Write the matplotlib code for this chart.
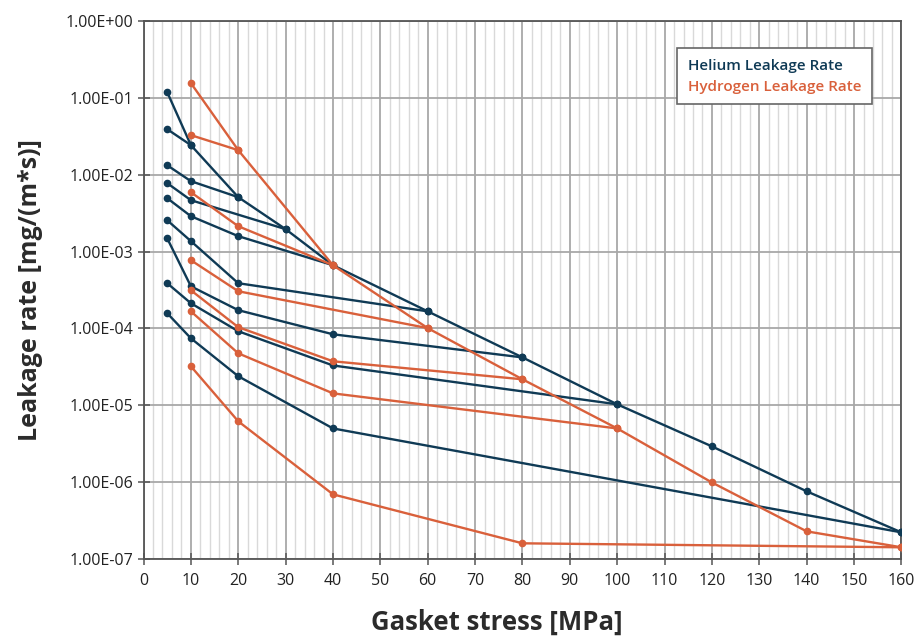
import matplotlib
matplotlib.use('Agg')
import matplotlib.pyplot as plt
from matplotlib.ticker import MultipleLocator, FuncFormatter, NullLocator, FixedLocator
from matplotlib.lines import Line2D

# leakage measurements, one list per loading path
# helium
he_stress = [
    [5, 10, 20, 30, 40, 60, 80, 100, 120, 140, 160],
    [5, 10],
    [5, 10, 20],
    [5, 10, 30],
    [5, 10, 20, 40],
    [5, 10, 20, 60],
    [5, 10, 20, 40, 80],
    [5, 10, 20, 40, 100],
    [5, 10, 20, 40, 160],
]
he_rate = [
    [0.119, 0.0243, 0.00511, 0.00196, 6.65e-4, 1.67e-4, 4.2e-5, 1.03e-5, 2.92e-6, 7.6e-7, 2.22e-7],
    [0.0392, 0.0243],
    [0.0133, 0.00826, 0.00511],
    [0.00778, 0.00467, 0.00196],
    [0.00496, 0.00289, 0.00159, 6.65e-4],
    [0.00256, 0.00137, 3.88e-4, 1.67e-4],
    [0.00149, 3.54e-4, 1.73e-4, 8.4e-5, 4.2e-5],
    [3.88e-4, 2.13e-4, 9.2e-5, 3.3e-5, 1.03e-5],
    [1.58e-4, 7.45e-5, 2.39e-5, 5.0e-6, 2.22e-7],
]

# hydrogen
h2_stress = [
    [10, 20, 40, 60, 80, 100, 120, 140, 160],
    [10, 20],
    [10, 20, 40],
    [10, 20, 60],
    [10, 20, 40, 80],
    [10, 20, 40, 100],
    [10, 20, 40, 80, 160],
]
h2_rate = [
    [0.156, 0.0209, 6.65e-4, 1.01e-4, 2.18e-5, 5.0e-6, 9.9e-7, 2.29e-7, 1.42e-7],
    [0.0328, 0.0209],
    [0.00593, 0.00214, 6.65e-4],
    [7.73e-4, 3.05e-4, 1.01e-4],
    [3.14e-4, 1.04e-4, 3.74e-5, 2.18e-5],
    [1.67e-4, 4.75e-5, 1.43e-5, 5.0e-6],
    [3.22e-5, 6.19e-6, 6.94e-7, 1.6e-7, 1.42e-7],
]

y_ticks = [1e-7, 1e-6, 1e-5, 1e-4, 1e-3, 1e-2, 1e-1, 1e0]

he_color = '#0f3a55'
h2_color = '#d9603b'

plt.rcParams['font.family'] = ['Open Sans', 'DejaVu Sans']

fig = plt.figure(figsize=(9.17, 6.39), dpi=100)
ax = fig.add_axes([0.1565, 0.1252, 0.8265, 0.8418])

for xs, ys in zip(he_stress, he_rate):
    ax.plot(xs, ys, color=he_color, lw=1.7, marker='o', ms=4.5, zorder=3)
for xs, ys in zip(h2_stress, h2_rate):
    ax.plot(xs, ys, color=h2_color, lw=1.7, marker='o', ms=4.5, zorder=4)

ax.set_yscale('log')
ax.set_ylim(1e-7, 1)
ax.set_xlim(0, 160)
ax.xaxis.set_major_locator(MultipleLocator(10))
ax.xaxis.set_minor_locator(MultipleLocator(2))
ax.yaxis.set_major_locator(FixedLocator(y_ticks))
ax.yaxis.set_minor_locator(NullLocator())
ax.yaxis.set_major_formatter(FuncFormatter(lambda v, p: '%.2E' % v))

ax.grid(which='minor', axis='x', color='#d9d9d9', lw=1.0, zorder=0)
ax.grid(which='major', axis='x', color='#a8a8a8', lw=1.3, zorder=0)
ax.grid(which='major', axis='y', color='#a8a8a8', lw=1.3, zorder=0)
ax.set_axisbelow(True)

for s in ax.spines.values():
    s.set_color('#555555')
    s.set_linewidth(1.3)

ax.tick_params(axis='both', which='major', direction='inout', length=8, width=1.1,
               color='#555555', labelsize=11.5, labelcolor='#222222')
ax.tick_params(axis='x', which='major', pad=6)
ax.tick_params(axis='x', which='minor', length=0)

ax.set_xlabel('Gasket stress [MPa]', fontsize=18.5, fontweight='bold', color='#2b2b2b',
              labelpad=14, x=0.466)
ax.set_ylabel('Leakage rate [mg/(m*s)]', fontsize=18, fontweight='bold', color='#2b2b2b',
              labelpad=16)

handles = [Line2D([], [], color=he_color, lw=0), Line2D([], [], color=h2_color, lw=0)]
leg = ax.legend(handles, ['Helium Leakage Rate', 'Hydrogen Leakage Rate'],
                loc='upper right', bbox_to_anchor=(0.961, 0.95), borderaxespad=0,
                handlelength=0, handletextpad=0, fancybox=False, framealpha=1,
                edgecolor='#666666', labelcolor=[he_color, h2_color],
                prop={'size': 11, 'weight': 'semibold'}, borderpad=0.7, labelspacing=0.45)
leg.get_frame().set_linewidth(1.2)

fig.savefig('out.png', dpi=100)
